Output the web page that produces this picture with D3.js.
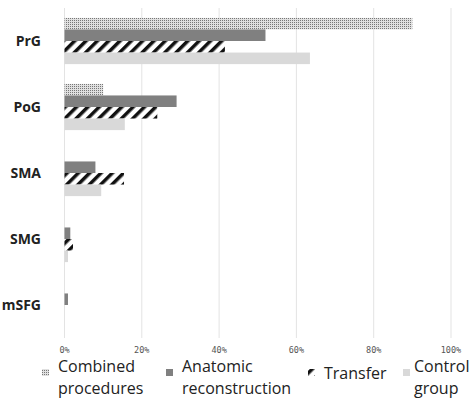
<!DOCTYPE html>
<html><head><meta charset="utf-8">
<script src="https://cdn.jsdelivr.net/npm/d3@7"></script>
<style>body{margin:0;background:#fff}</style>
</head><body><div id="container"></div>
<script>
var categories = ["PrG", "PoG", "SMA", "SMG", "mSFG"];
var seriesNames = ["Combined procedures", "Anatomic reconstruction", "Transfer", "Control group"];
var combined = [0.90, 0.10, 0, 0, 0];
var anatomic = [0.52, 0.29, 0.08, 0.015, 0.009];
var transfer = [0.415, 0.24, 0.154, 0.022, 0];
var control = [0.635, 0.156, 0.095, 0.009, 0];
var ticks = [0, 0.2, 0.4, 0.6, 0.8, 1.0];

var svg = d3.select("#container").append("svg").attr("width", 474).attr("height", 402);
var defs = svg.append("defs");
var dots = defs.append("pattern").attr("id", "dots").attr("patternUnits", "userSpaceOnUse")
    .attr("width", 2).attr("height", 2);
dots.append("rect").attr("width", 2).attr("height", 2).attr("fill", "#e0e0e0");
dots.append("rect").attr("width", 1).attr("height", 1).attr("fill", "#777");
var stripes = defs.append("pattern").attr("id", "stripes").attr("patternUnits", "userSpaceOnUse")
    .attr("width", 8).attr("height", 8).attr("patternTransform", "rotate(45)");
stripes.append("rect").attr("width", 8).attr("height", 8).attr("fill", "#fff");
stripes.append("rect").attr("width", 3.5).attr("height", 8).attr("fill", "#111");

var fills = ["url(#dots)", "#808080", "url(#stripes)", "#d9d9d9"];
var series = [combined, anatomic, transfer, control];

var x = d3.scaleLinear().domain([0, 1]).range([64.5, 451]);
var y = d3.scaleBand().domain(categories).range([8, 338]).paddingInner(0.3).paddingOuter(0.15);
var y1 = d3.scaleBand().domain(d3.range(4)).range([0, y.bandwidth()]);

svg.append("g").selectAll("line").data(ticks).join("line")
    .attr("x1", d => x(d)).attr("x2", d => x(d)).attr("y1", 8).attr("y2", 338)
    .attr("stroke", "#e3e3e3").attr("stroke-width", 1);

svg.append("g").selectAll("text").data(ticks).join("text")
    .attr("x", d => x(d)).attr("y", 353).attr("text-anchor", "middle")
    .attr("font-family", "DejaVu Sans Mono").attr("font-size", 8.5).attr("fill", "#555")
    .text(d => Math.round(d * 100) + "%");

var g = svg.append("g");
series.forEach(function (vals, si) {
    g.selectAll(".s" + si).data(vals).join("rect")
        .attr("x", x(0)).attr("y", (d, i) => y(categories[i]) + y1(si))
        .attr("width", d => x(d) - x(0)).attr("height", y1.bandwidth())
        .attr("fill", fills[si]);
});

svg.append("g").selectAll("text").data(categories).join("text")
    .attr("x", 41).attr("y", d => y(d) + y.bandwidth() / 2 + 5).attr("text-anchor", "end")
    .attr("font-family", "Open Sans").attr("font-weight", "bold").attr("font-size", 14)
    .attr("fill", "#222").text(d => d);

var legend = [
    {ix: 42, tx: 58, lines: ["Combined", "procedures"]},
    {ix: 166, tx: 182, lines: ["Anatomic", "reconstruction"]},
    {ix: 308, tx: 324, lines: ["Transfer"]},
    {ix: 403, tx: 414, lines: ["Control", "group"]}
];
legend.forEach(function (l, i) {
    svg.append("rect").attr("x", l.ix).attr("y", 369).attr("width", 7).attr("height", 7).attr("fill", fills[i]);
    var t = svg.append("text").attr("font-family", "Open Sans").attr("font-size", 16).attr("fill", "#222");
    if (l.lines.length === 1) {
        t.append("tspan").attr("x", l.tx).attr("y", 379).text(l.lines[0]);
    } else {
        t.append("tspan").attr("x", l.tx).attr("y", 372).text(l.lines[0]);
        t.append("tspan").attr("x", l.tx).attr("y", 394).text(l.lines[1]);
    }
});
</script></body></html>
